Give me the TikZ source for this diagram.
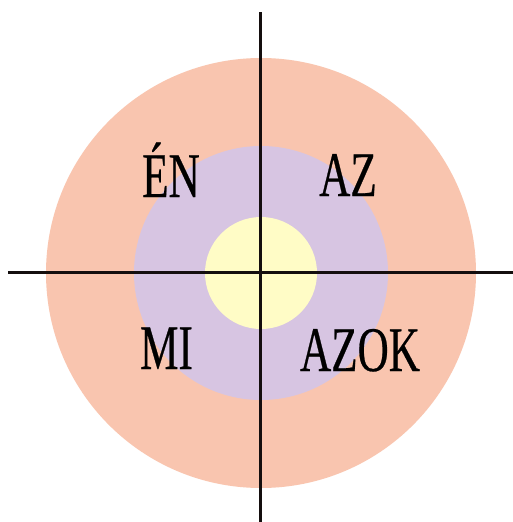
\documentclass[tikz,border=0pt]{standalone}
\usepackage{fontspec}
\newfontfamily\labfont[FakeStretch=0.68,FakeBold=0.4]{Liberation Serif}
\definecolor{ringouter}{RGB}{249,197,175}
\definecolor{ringmid}{RGB}{215,197,226}
\definecolor{ringin}{RGB}{255,252,198}
\definecolor{axiscol}{RGB}{20,14,14}
\begin{document}
\begin{tikzpicture}[x=1pt,y=-1pt,
  axis/.style={draw=axiscol,line width=3pt},
  lab/.style={inner sep=0pt,anchor=base,text=black,font=\labfont\fontsize{63.5}{70}\selectfont}]
\fill[white] (0,0) rectangle (513,522);
\useasboundingbox (0,0) rectangle (513,522);
\coordinate (c) at (261,273);
\fill[ringouter] (c) circle[radius=215pt];
\fill[ringmid] (c) circle[radius=127pt];
\fill[ringin] (c) circle[radius=56pt];
\coordinate (vtop) at (260,12);
\coordinate (vbot) at (260,524);
\coordinate (hleft) at (8,272);
\coordinate (hright) at (515,272);
\draw[axis] (vtop) -- (vbot);
\draw[axis] (hleft) -- (hright);
\node[lab] (en) at (171,197) {ÉN};
\node[lab] (az) at (348,196) {AZ};
\node[lab] (mi) at (166.5,369) {MI};
\node[lab] (azok) at (360,371) {AZOK};
\end{tikzpicture}
\end{document}
